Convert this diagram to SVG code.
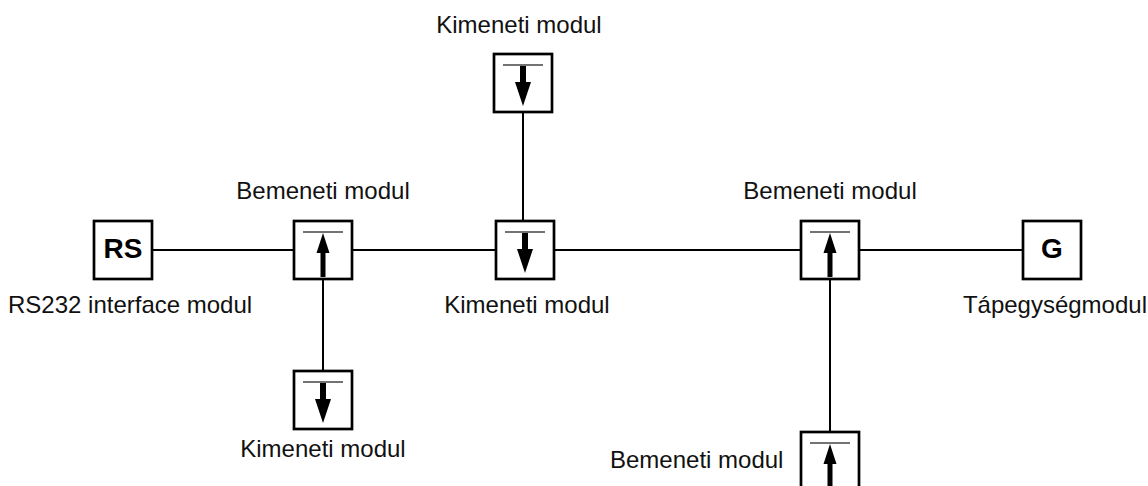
<svg xmlns="http://www.w3.org/2000/svg" xmlns:xlink="http://www.w3.org/1999/xlink" width="1148" height="486" viewBox="0 0 1148 486">
<style>
.box{fill:#fff;stroke:#000;stroke-width:2.7}
.bar{stroke:#444;stroke-width:1.6}
.conn{stroke:#000;stroke-width:2;fill:none}
.lbl{font-family:"Liberation Sans",Arial,sans-serif;font-size:24px;fill:#111}
.big{font-family:"Liberation Sans",Arial,sans-serif;font-size:28px;font-weight:bold;fill:#000;text-anchor:middle}
</style>
<defs>
<g id="upIcon">
<rect class="box" x="0" y="0" width="58" height="58"/>
<line class="bar" x1="9" y1="11" x2="49" y2="11"/>
<path d="M29 12 L35.5 32 L31.5 32 L31.5 56 L26.5 56 L26.5 32 L22.5 32 Z" fill="#000"/>
</g>
<g id="downIcon">
<rect class="box" x="0" y="0" width="58" height="58"/>
<line class="bar" x1="9" y1="11" x2="49" y2="11"/>
<path d="M26 12 L32 12 L32 28 L37 28 L29 52 L21 28 L26 28 Z" fill="#000"/>
</g>
</defs>
<rect width="1148" height="486" fill="#fff"/>
<g id="connectors">
<line class="conn" x1="152" y1="250" x2="294" y2="250"/>
<line class="conn" x1="352" y1="250" x2="496" y2="250"/>
<line class="conn" x1="554" y1="250" x2="801" y2="250"/>
<line class="conn" x1="859" y1="250" x2="1023" y2="250"/>
<line class="conn" x1="523" y1="112" x2="523" y2="221"/>
<line class="conn" x1="323" y1="279" x2="323" y2="371"/>
<line class="conn" x1="830" y1="279" x2="830" y2="432"/>
</g>
<g id="rs">
<rect class="box" x="94" y="221" width="58" height="58"/>
<text class="big" x="123" y="258">RS</text>
<text class="lbl" x="8" y="313">RS232 interface modul</text>
</g>
<g id="bemeneti1">
<use xlink:href="#upIcon" x="294" y="221"/>
<text class="lbl" x="323" y="199" text-anchor="middle">Bemeneti modul</text>
</g>
<g id="kimeneti-top">
<use xlink:href="#downIcon" x="494" y="54"/>
<text class="lbl" x="519" y="33" text-anchor="middle">Kimeneti modul</text>
</g>
<g id="kimeneti-mid">
<use xlink:href="#downIcon" x="496" y="221"/>
<text class="lbl" x="527" y="313" text-anchor="middle">Kimeneti modul</text>
</g>
<g id="bemeneti2">
<use xlink:href="#upIcon" x="801" y="221"/>
<text class="lbl" x="830" y="199" text-anchor="middle">Bemeneti modul</text>
</g>
<g id="g">
<rect class="box" x="1023" y="221" width="58" height="58"/>
<text class="big" x="1052" y="258">G</text>
<text class="lbl" x="1147" y="313" text-anchor="end">Tápegységmodul</text>
</g>
<g id="kimeneti-bottom">
<use xlink:href="#downIcon" x="294" y="371"/>
<text class="lbl" x="323" y="457" text-anchor="middle">Kimeneti modul</text>
</g>
<g id="bemeneti-bottom">
<use xlink:href="#upIcon" x="801" y="432"/>
<text class="lbl" x="610" y="468">Bemeneti modul</text>
</g>
</svg>
